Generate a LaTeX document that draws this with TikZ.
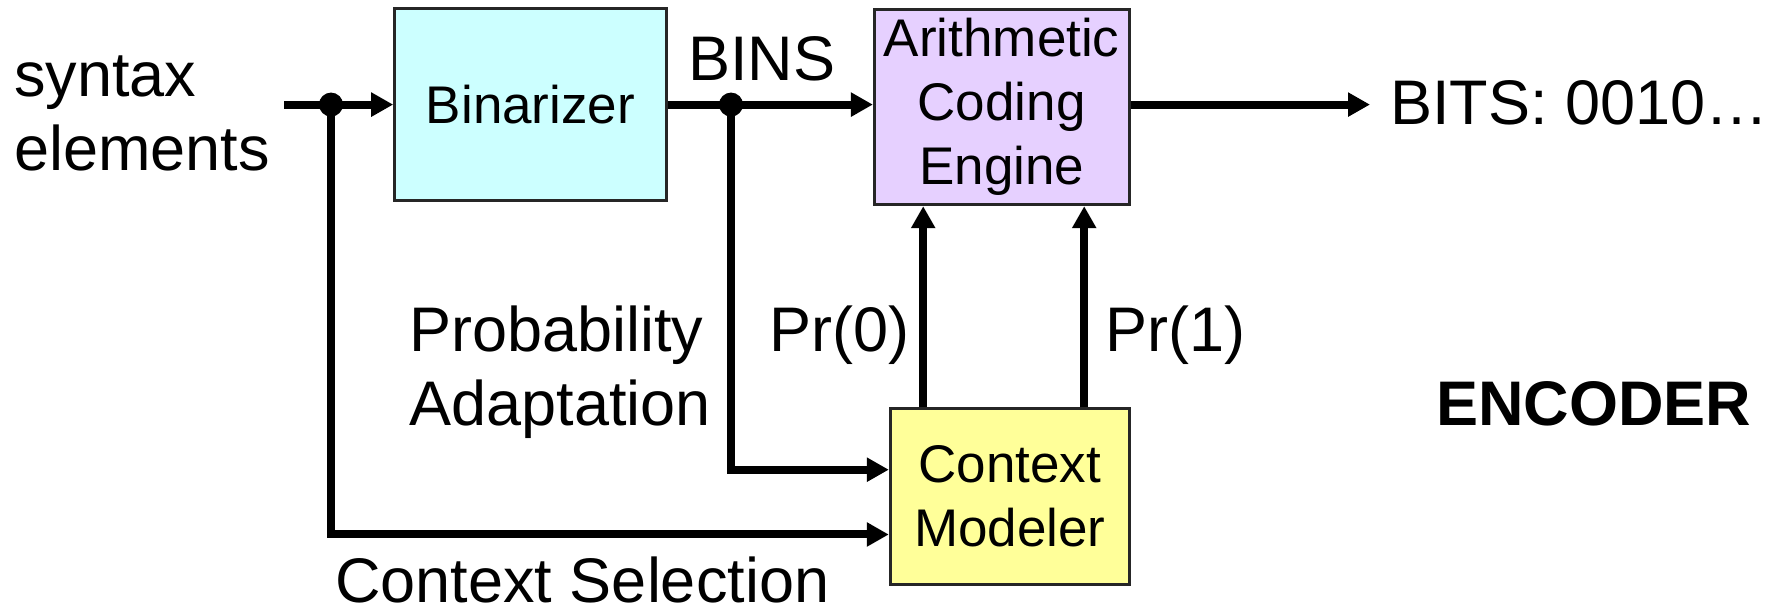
\documentclass[tikz,border=0pt]{standalone}
\usepackage{fontspec}
\setmainfont{Liberation Sans}
\usetikzlibrary{arrows.meta,calc}
\definecolor{binfill}{HTML}{CCFFFF}
\definecolor{acefill}{HTML}{E6D0FF}
\definecolor{cmfill}{HTML}{FFFF99}
\begin{document}
\begin{tikzpicture}[x=0.5pt,y=-0.5pt,
  box/.style={draw=black!85,line width=1.5pt,inner sep=0pt,align=center,
    font=\fontsize{26.5}{32}\selectfont},
  lbl/.style={inner sep=0pt,anchor=base west,font=\fontsize{31.5}{37}\selectfont},
  conn/.style={line width=4pt,-{Triangle[length=11pt,width=11.5pt]}},
  wire/.style={line width=4pt},
  dot/.style={circle,fill=black,inner sep=0pt,minimum size=12pt}]
\useasboundingbox (0,0) rectangle (1783,613);
% boxes
\node[box,fill=binfill,minimum width=135.8pt,minimum height=96pt] (bin) at (530.5,105) {Binarizer};
\node[box,fill=acefill,minimum width=127.3pt,minimum height=97.8pt] (ace) at (1001.7,106.9) {Arithmetic\\Coding\\Engine};
\node[box,fill=cmfill,minimum width=119.5pt,minimum height=87.7pt] (cm) at (1009.8,496.7) {Context\\Modeler};
% coordinates
\coordinate (in) at (284,104.6);
\coordinate (d1) at (331,104.6);
\coordinate (d2) at (731,104.6);
\coordinate (out) at (1370,104.6);
% connectors
\draw[conn] (in) -- (in -| bin.west);
\draw[conn] (bin.east |- d2) -- (d2 -| ace.west);
\draw[conn] (ace.east |- out) -- (out);
\draw[conn] (d2) |- ([yshift=13.5pt]cm.west);
\draw[conn] (d1) |- ([yshift=-18.9pt]cm.west);
\draw[conn] ([xshift=17.2pt]cm.north west) -- ([xshift=17.2pt]cm.north west |- ace.south);
\draw[conn] ([xshift=-23.3pt]cm.north east) -- ([xshift=-23.3pt]cm.north east |- ace.south);
\node[dot] (n1) at (d1) {};
\node[dot] (n2) at (d2) {};
% labels
\node[lbl] (syn) at (14,97) {syntax};
\node[lbl] (ele) at (14,171) {elements};
\node[lbl] (bins) at (688,81) {BINS};
\node[lbl] (bits) at (1390,125) {BITS: 0010…};
\node[lbl] (prob) at (409,352) {Probability};
\node[lbl] (adap) at (409,426) {Adaptation};
\node[lbl] (pr0) at (769,352) {Pr(0)};
\node[lbl] (pr1) at (1105,352) {Pr(1)};
\node[lbl,font=\fontsize{31.5}{37}\selectfont\bfseries] (enc) at (1436,426) {ENCODER};
\node[lbl] (cs) at (335,603) {Context Selection};
\end{tikzpicture}
\end{document}
